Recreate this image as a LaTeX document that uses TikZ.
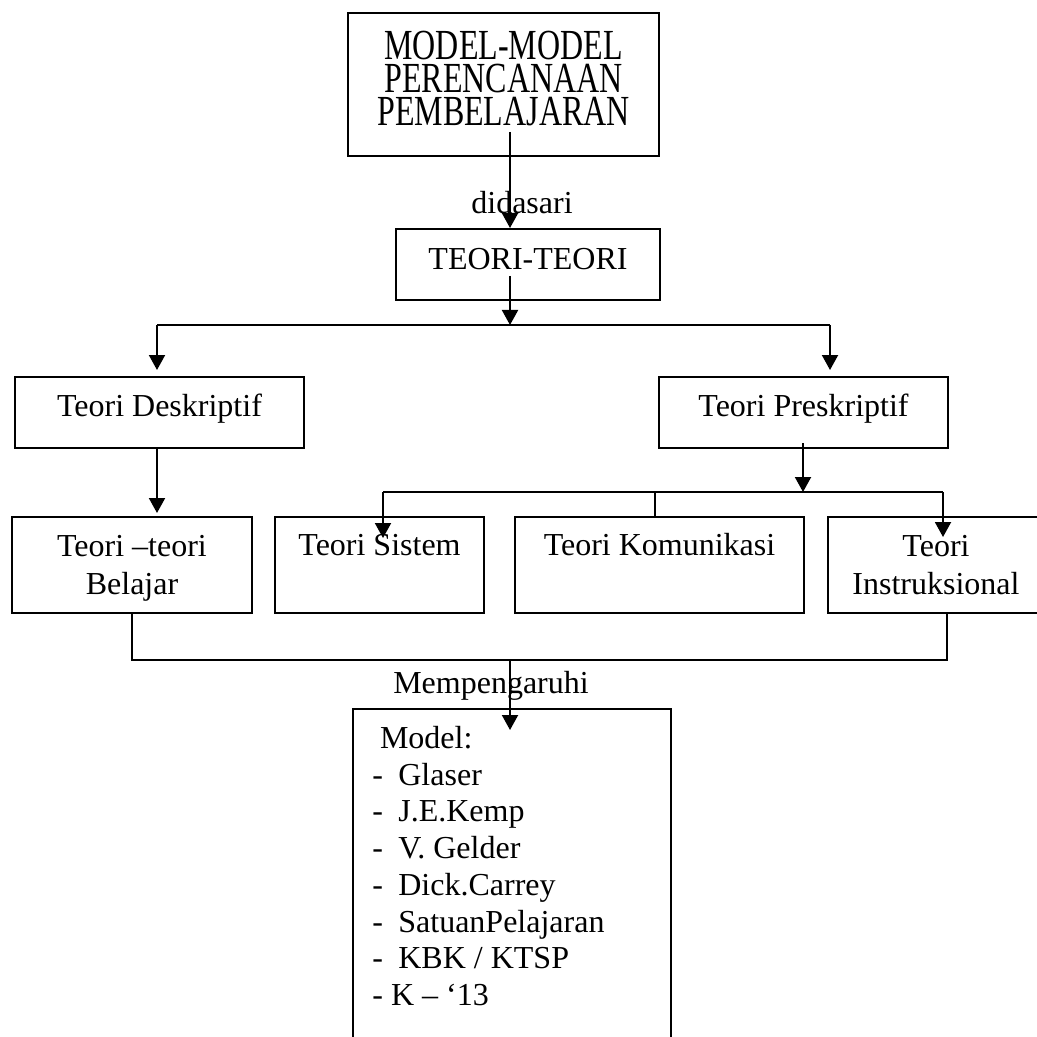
\documentclass[tikz,border=0pt]{standalone}
\usepackage{fontspec}
\setmainfont{Liberation Serif}
\usepackage{tikz}
\usetikzlibrary{arrows.meta,positioning}

\begin{document}
\begin{tikzpicture}[x=0.5pt, y=-0.5pt,
    kotak/.style={draw, line width=1pt, anchor=north west, inner xsep=2pt, inner ysep=3pt,
        font=\fontsize{16}{19}\selectfont, align=center},
    satu/.style={kotak, text height=16.5pt, text depth=13pt},
    baris/.style={kotak, text height=16.25pt, text depth=25.75pt},
    dua/.style={kotak, text height=35.5pt, text depth=6.5pt},
    garis/.style={line width=1pt},
    panah/.style={line width=1pt, -{Triangle[length=7.5pt, width=8pt]}},
    ket/.style={font=\fontsize{16}{19}\selectfont, inner sep=0pt, anchor=base}]
    \useasboundingbox (0,0) rectangle (1037,1037);
    \clip (0,0) rectangle (1037,1037);

    % kotak-kotak
    \node[kotak, minimum width=155.5pt, text height=20.5pt, text depth=45pt] (rencana) at (347,12)
        {\scalebox{1}[1.34]{\parbox[t]{150pt}{\centering\fontsize{16}{12.3}\selectfont MODEL-MODEL\\PERENCANAAN\\PEMBELAJARAN}}};
    \node[kotak, minimum width=132pt, text height=17.25pt, text depth=12.25pt] (teori) at (395,228) {TEORI-TEORI};
    \node[satu, minimum width=144.5pt] (deskriptif) at (14,376) {Teori Deskriptif};
    \node[satu, minimum width=144.5pt] (preskriptif) at (658,376) {Teori Preskriptif};
    \node[dua, minimum width=120pt] (belajar) at (11,516) {Teori –teori\\Belajar};
    \node[baris, minimum width=104.5pt] (sistem) at (274,516) {Teori Sistem};
    \node[baris, minimum width=144.5pt] (komunikasi) at (514,516) {Teori Komunikasi};
    \node[dua, minimum width=108pt] (instruksional) at (827,516) {Teori\\Instruksional};
    \node[draw, line width=1pt, anchor=north west, minimum width=159pt, minimum height=176pt] (modelbox) at (352,708) {};
    \node[anchor=base west, inner sep=0pt] (daftar) at (372,748.5)
        {\parbox[t]{150pt}{\raggedright\fontsize{16}{18.35}\selectfont
        \hspace*{3.8pt}Model:\\
        \makebox[13pt][l]{-}Glaser\\
        \makebox[13pt][l]{-}J.E.Kemp\\
        \makebox[13pt][l]{-}V. Gelder\\
        \makebox[13pt][l]{-}Dick.Carrey\\
        \makebox[13pt][l]{-}SatuanPelajaran\\
        \makebox[13pt][l]{-}KBK / KTSP\\
        - K – ‘13}};

    % keterangan
    \node[ket] (didasari) at (522,213.5) {didasari};
    \node[ket] (mempengaruhi) at (491,693.5) {Mempengaruhi};

    % titik bantu
    \coordinate (a1) at (510,132);
    \coordinate (a2) at (510,276);
    \coordinate (jl) at (157,325);
    \coordinate (jr) at (830,325);
    \coordinate (a3) at (803,443);
    \coordinate (kl) at (383,492);
    \coordinate (km) at (655,492);
    \coordinate (kr) at (943,492);
    \coordinate (ts) at (383,538);
    \coordinate (ti) at (943,537);
    \coordinate (mb) at (510,660);
    \coordinate (ib) at (947,612);
    \coordinate (mt) at (510,730);

    % garis dan panah
    \draw[panah] (a1) -- (a1 |- teori.north);
    \draw[panah] (a2) -- (a2 |- jl);
    \draw[garis] (jl) -- (jr);
    \draw[panah, shorten >=3pt] (jl) -- (jl |- deskriptif.north);
    \draw[panah, shorten >=3pt] (jr) -- (jr |- preskriptif.north);
    \draw[panah, shorten >=1.5pt] (deskriptif.south -| jl) -- (jl |- belajar.north);
    \draw[panah] (a3) -- (a3 |- kl);
    \draw[garis] (kl) -- (kr);
    \draw[garis] (km) -- (km |- komunikasi.north);
    \draw[panah] (kl) -- (ts);
    \draw[panah] (kr) -- (ti);
    \draw[garis] (belajar.south) |- (mb) -| (ib);
    \draw[panah] (mb) -- (mt);
\end{tikzpicture}
\end{document}
